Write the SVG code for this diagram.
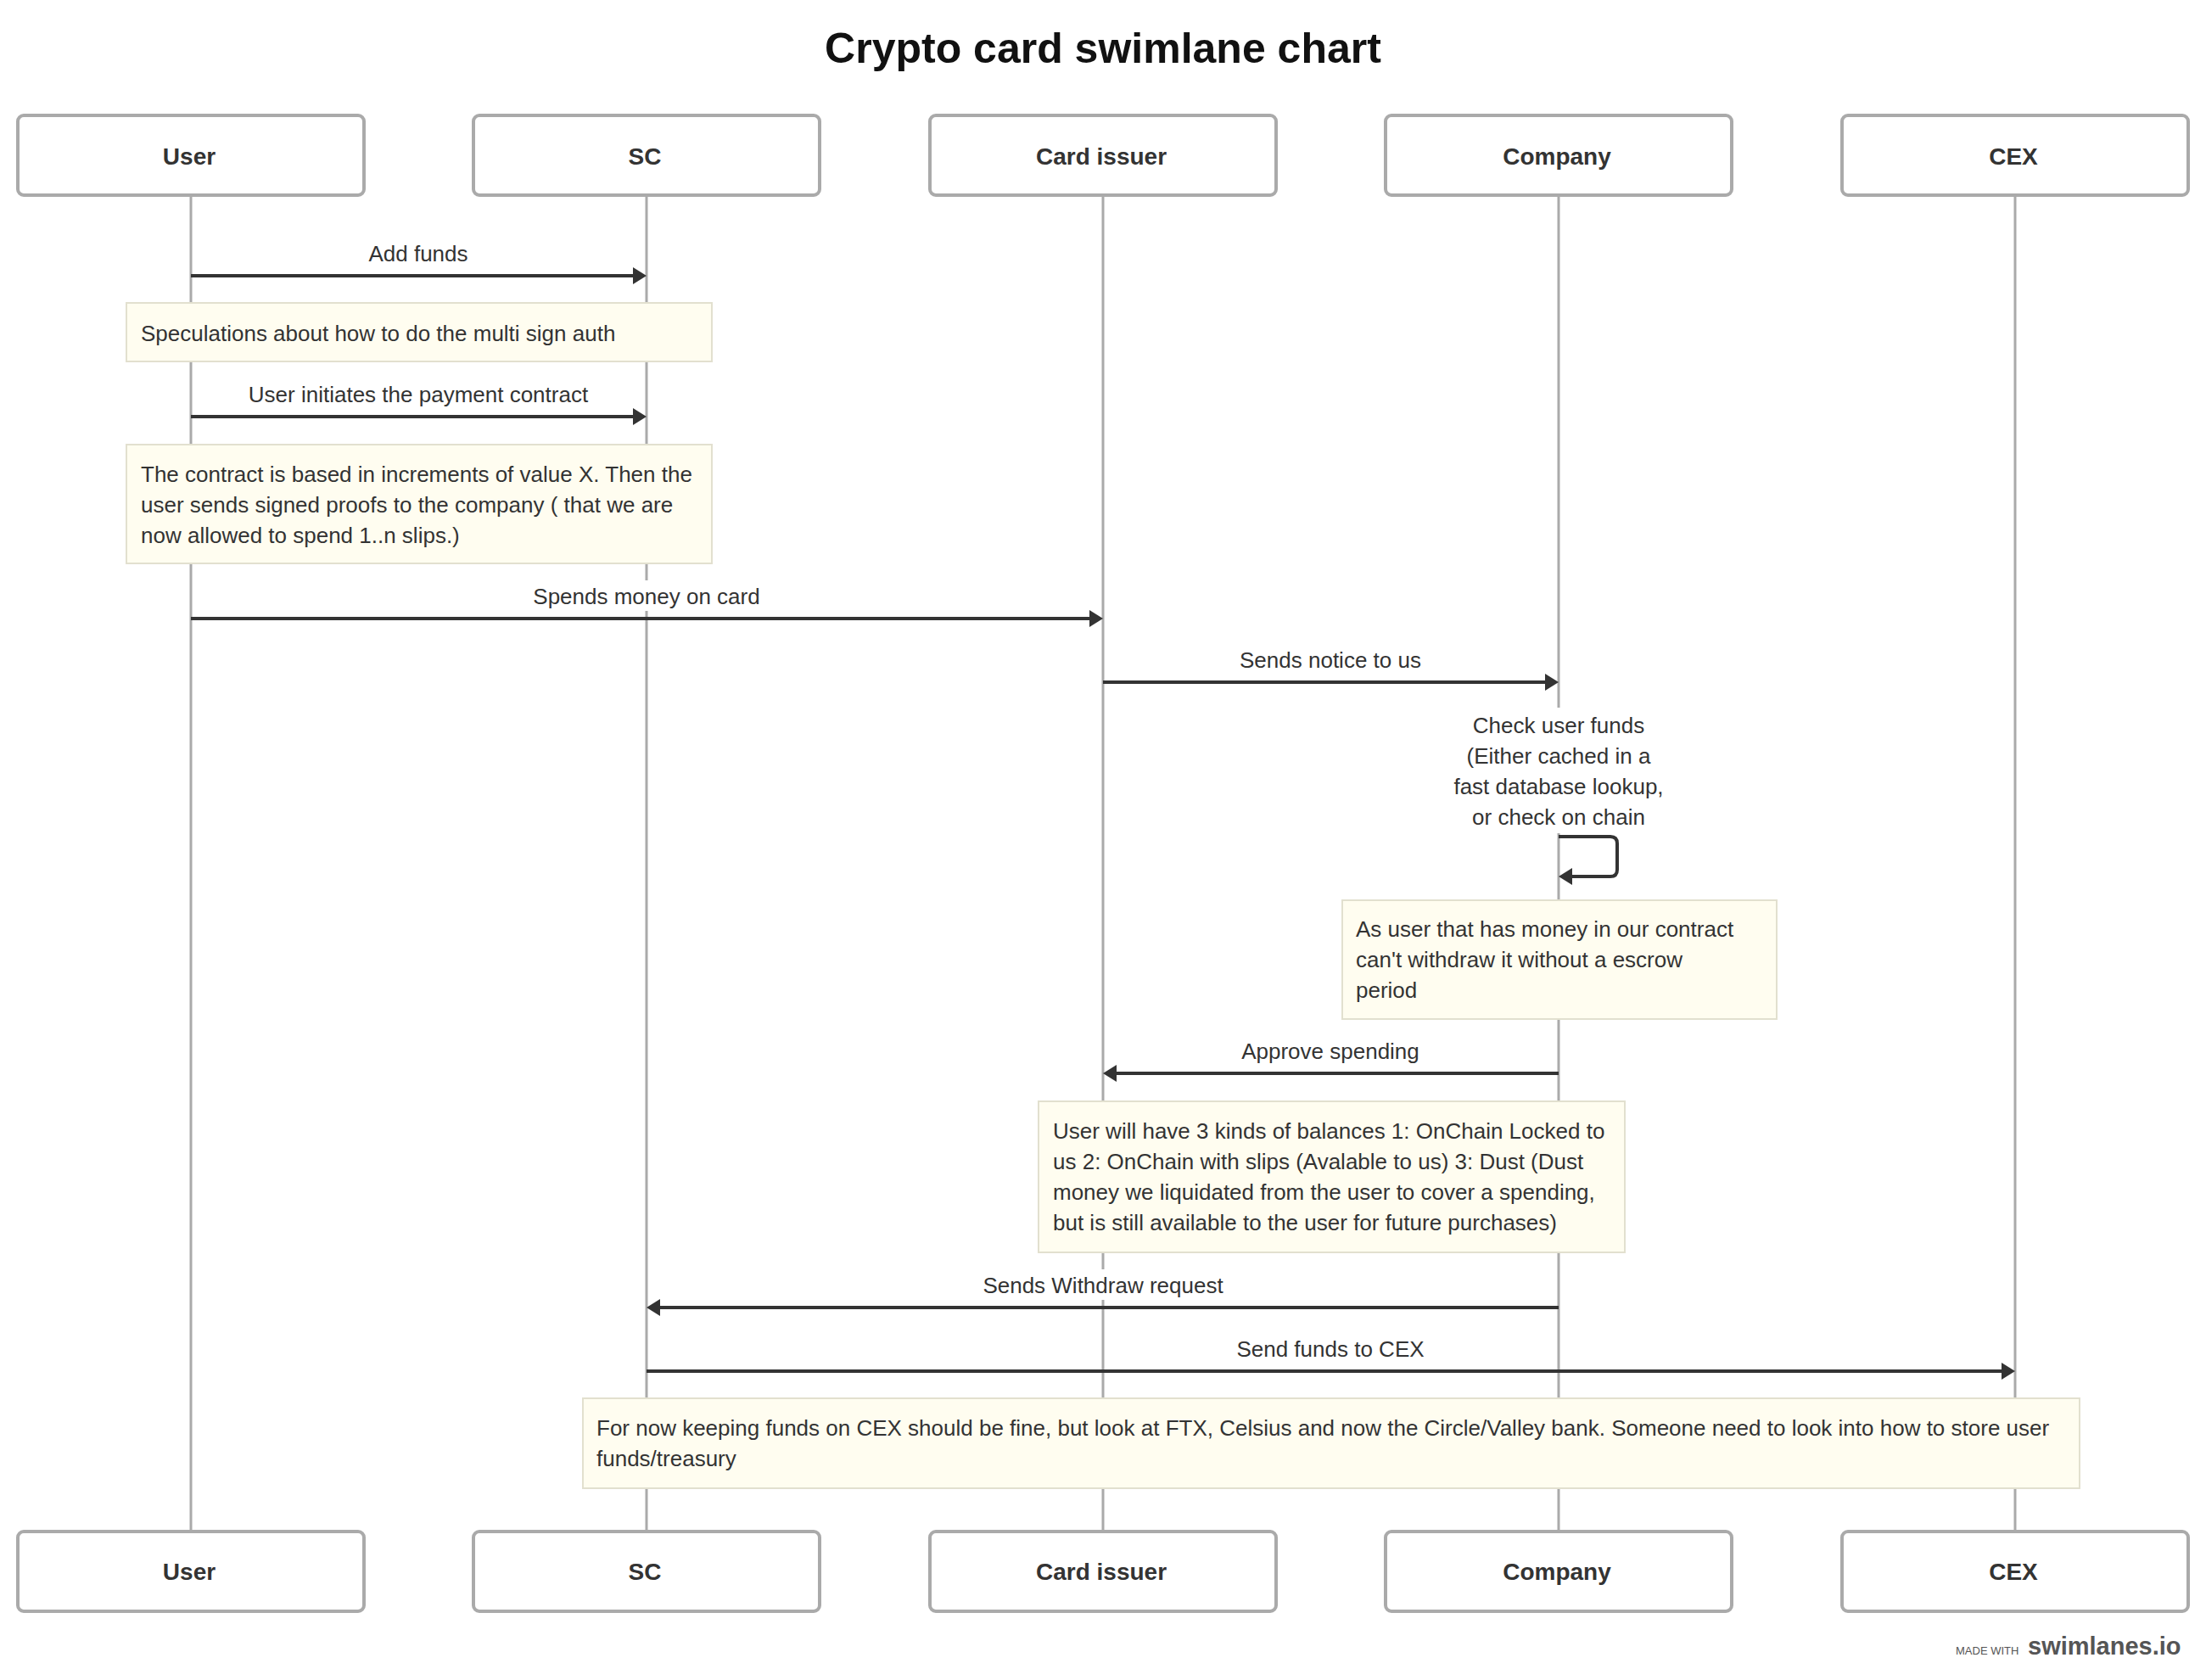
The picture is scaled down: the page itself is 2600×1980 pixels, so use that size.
<svg xmlns="http://www.w3.org/2000/svg" width="2600" height="1980" viewBox="0 0 2600 1980">
<style>
.bg{fill:#ffffff}
.title{font-family:"Liberation Sans",Arial,sans-serif;font-size:50px;font-weight:bold;fill:#111;text-anchor:middle}
.actor rect{fill:#ffffff;stroke:#aaaaaa;stroke-width:4}
.actor text{font-family:"Liberation Sans",Arial,sans-serif;font-size:28px;font-weight:bold;fill:#333;text-anchor:middle}
.life{stroke:#aaaaaa;stroke-width:3}
.msg{stroke:#333;stroke-width:4;fill:none}
.lbl{font-family:"Liberation Sans",Arial,sans-serif;font-size:26px;fill:#333;text-anchor:middle}
.lblbg{fill:#ffffff}
.note rect{fill:#fffdf0;stroke:#e2e0cf;stroke-width:2}
.note text{font-family:"Liberation Sans",Arial,sans-serif;font-size:26px;fill:#333}
.foot1{font-family:"Liberation Sans",Arial,sans-serif;font-size:13px;fill:#555}
.foot2{font-family:"Liberation Sans",Arial,sans-serif;font-size:29px;font-weight:bold;fill:#555}
</style>
<defs>
<marker id="arr" markerUnits="userSpaceOnUse" markerWidth="16" markerHeight="20" refX="6" refY="10" orient="auto">
<path d="M0,0 L16,10 L0,20 z" fill="#333"/>
</marker>
</defs>
<rect class="bg" x="0" y="0" width="2600" height="1980"/>
<text class="title" x="1300" y="74">Crypto card swimlane chart</text>

<g id="actor-user" class="actor">
<line class="life" x1="225" y1="230" x2="225" y2="1805"/>
<rect x="21" y="136" width="408" height="94" rx="7"/>
<text x="223" y="194">User</text>
<rect x="21" y="1805" width="408" height="94" rx="7"/>
<text x="223" y="1862">User</text>
</g>
<g id="actor-sc" class="actor">
<line class="life" x1="762" y1="230" x2="762" y2="1805"/>
<rect x="558" y="136" width="408" height="94" rx="7"/>
<text x="760" y="194">SC</text>
<rect x="558" y="1805" width="408" height="94" rx="7"/>
<text x="760" y="1862">SC</text>
</g>
<g id="actor-card-issuer" class="actor">
<line class="life" x1="1300" y1="230" x2="1300" y2="1805"/>
<rect x="1096" y="136" width="408" height="94" rx="7"/>
<text x="1298" y="194">Card issuer</text>
<rect x="1096" y="1805" width="408" height="94" rx="7"/>
<text x="1298" y="1862">Card issuer</text>
</g>
<g id="actor-company" class="actor">
<line class="life" x1="1837" y1="230" x2="1837" y2="1805"/>
<rect x="1633" y="136" width="408" height="94" rx="7"/>
<text x="1835" y="194">Company</text>
<rect x="1633" y="1805" width="408" height="94" rx="7"/>
<text x="1835" y="1862">Company</text>
</g>
<g id="actor-cex" class="actor">
<line class="life" x1="2375" y1="230" x2="2375" y2="1805"/>
<rect x="2171" y="136" width="408" height="94" rx="7"/>
<text x="2373" y="194">CEX</text>
<rect x="2171" y="1805" width="408" height="94" rx="7"/>
<text x="2373" y="1862">CEX</text>
</g>

<g id="connectors">
<g id="m1">
<rect class="lblbg" x="431" y="280" width="124" height="36"/>
<text class="lbl" x="493" y="308">Add funds</text>
<line class="msg" x1="225" y1="325" x2="752" y2="325" marker-end="url(#arr)"/>
</g>
<g id="m2">
<rect class="lblbg" x="290" y="446" width="406" height="36"/>
<text class="lbl" x="493" y="474">User initiates the payment contract</text>
<line class="msg" x1="225" y1="491" x2="752" y2="491" marker-end="url(#arr)"/>
</g>
<g id="m3">
<rect class="lblbg" x="624" y="684" width="278" height="36"/>
<text class="lbl" x="762" y="712">Spends money on card</text>
<line class="msg" x1="225" y1="729" x2="1290" y2="729" marker-end="url(#arr)"/>
</g>
<g id="m4">
<rect class="lblbg" x="1456" y="759" width="224" height="36"/>
<text class="lbl" x="1568" y="787">Sends notice to us</text>
<line class="msg" x1="1300" y1="804" x2="1827" y2="804" marker-end="url(#arr)"/>
</g>
<g id="m5">
<rect class="lblbg" x="1705" y="834" width="264" height="148"/>
<text class="lbl" x="1837" y="864">Check user funds</text>
<text class="lbl" x="1837" y="900">(Either cached in a</text>
<text class="lbl" x="1837" y="936">fast database lookup,</text>
<text class="lbl" x="1837" y="972">or check on chain</text>
<path class="msg" d="M1837,986 H1898 Q1906,986 1906,994 V1025 Q1906,1033 1898,1033 H1847" marker-end="url(#arr)"/>
</g>
<g id="m6">
<rect class="lblbg" x="1460" y="1220" width="216" height="36"/>
<text class="lbl" x="1568" y="1248">Approve spending</text>
<line class="msg" x1="1837" y1="1265" x2="1310" y2="1265" marker-end="url(#arr)"/>
</g>
<g id="m7">
<rect class="lblbg" x="1152" y="1496" width="296" height="36"/>
<text class="lbl" x="1300" y="1524">Sends Withdraw request</text>
<line class="msg" x1="1837" y1="1541" x2="772" y2="1541" marker-end="url(#arr)"/>
</g>
<g id="m8">
<rect class="lblbg" x="1456" y="1571" width="224" height="36"/>
<text class="lbl" x="1568" y="1599">Send funds to CEX</text>
<line class="msg" x1="762" y1="1616" x2="2365" y2="1616" marker-end="url(#arr)"/>
</g>
</g>

<g id="note1" class="note">
<rect x="149" y="357" width="690" height="69"/>
<text x="166" y="402">Speculations about how to do the multi sign auth</text>
</g>
<g id="note2" class="note">
<rect x="149" y="524" width="690" height="140"/>
<text x="166" y="568">The contract is based in increments of value X. Then the</text>
<text x="166" y="604">user sends signed proofs to the company ( that we are</text>
<text x="166" y="640">now allowed to spend 1..n slips.)</text>
</g>
<g id="note3" class="note">
<rect x="1582" y="1061" width="512" height="140"/>
<text x="1598" y="1104">As user that has money in our contract</text>
<text x="1598" y="1140">can't withdraw it without a escrow</text>
<text x="1598" y="1176">period</text>
</g>
<g id="note4" class="note">
<rect x="1224" y="1298" width="691" height="178"/>
<text x="1241" y="1342">User will have 3 kinds of balances 1: OnChain Locked to</text>
<text x="1241" y="1378">us 2: OnChain with slips (Avalable to us) 3: Dust (Dust</text>
<text x="1241" y="1414">money we liquidated from the user to cover a spending,</text>
<text x="1241" y="1450">but is still available to the user for future purchases)</text>
</g>
<g id="note5" class="note">
<rect x="687" y="1648" width="1764" height="106"/>
<text x="703" y="1692">For now keeping funds on CEX should be fine, but look at FTX, Celsius and now the Circle/Valley bank. Someone need to look into how to store user</text>
<text x="703" y="1728">funds/treasury</text>
</g>

<text class="foot1" x="2305" y="1950">MADE WITH</text>
<text class="foot2" x="2390" y="1950">swimlanes.io</text>
</svg>
